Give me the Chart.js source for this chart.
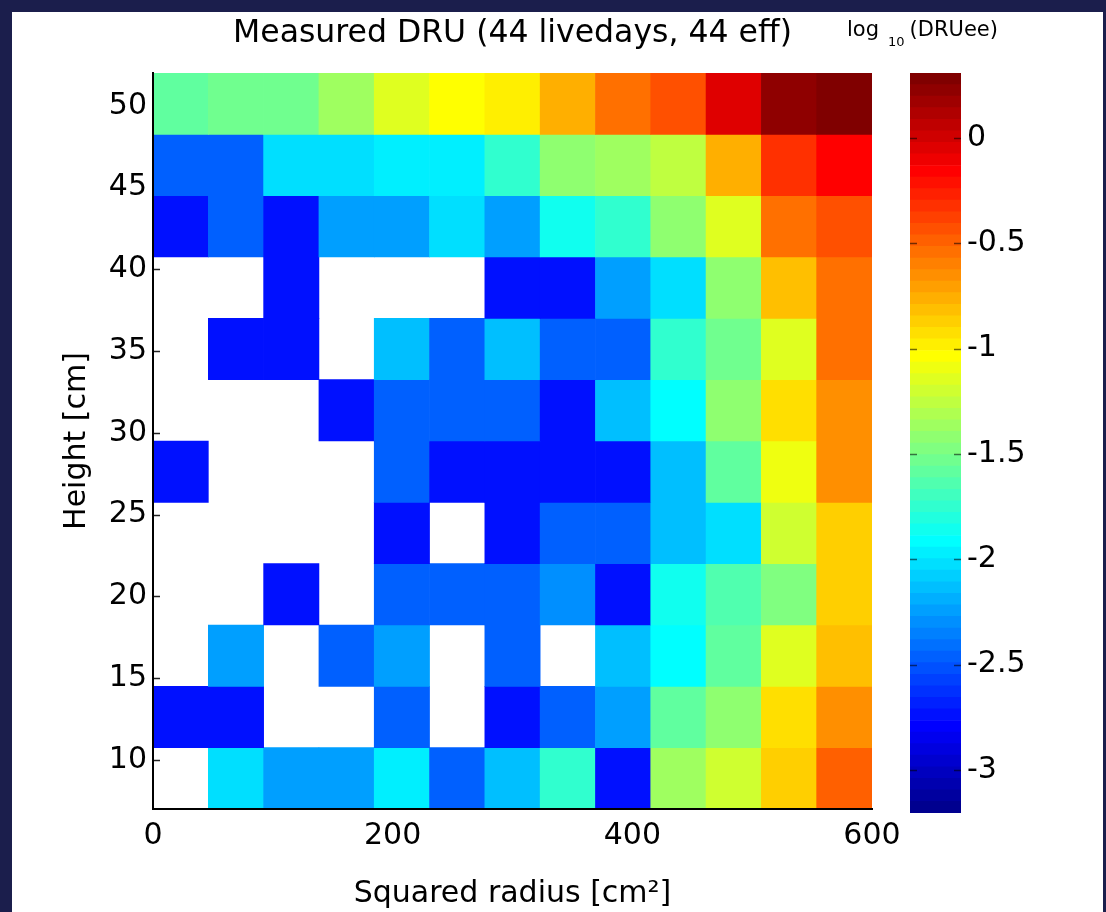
<!DOCTYPE html>
<html lang="en">
<head>
<meta charset="utf-8">
<title>Measured DRU</title>
<script src="https://cdn.jsdelivr.net/npm/chart.js"></script>
<style>
  html, body { margin: 0; padding: 0; }
  body {
    width: 1106px; height: 912px; position: relative; overflow: hidden;
    background: #1b1e4c; font-family: 'DejaVu Sans', sans-serif;
  }
  #hoja { position: absolute; left: 12px; top: 12px; width: 1091px; height: 900px; background: #fff; }
  #grafico { position: absolute; left: 12px; top: 12px; }
  #barra { position: absolute; left: 880px; top: 12px; }
  #etiqueta-barra {
    position: absolute; left: 847px; top: 16px; color: #000;
    font-size: 21px; line-height: 26px; white-space: nowrap;
  }
  #etiqueta-barra sub { font-size: 13px; margin: 0 5px 0 9px; vertical-align: -10px; line-height: 0; }
</style>
</head>
<body>
<div id="hoja"></div>
<canvas id="grafico" width="888" height="900"></canvas>
<canvas id="barra" width="220" height="900"></canvas>
<div id="etiqueta-barra">log<sub>10</sub>(DRUee)</div>

<script>
// Bordes de los bins: radio al cuadrado (cm^2) y altura (cm)
const radioCuadradoBordes = [0, 46.2, 92.3, 138.5, 184.6, 230.8, 276.9, 323.1, 369.2, 415.4, 461.5, 507.7, 553.8, 600];
const alturaBordes = [7, 10.75, 14.5, 18.25, 22, 25.75, 29.5, 33.25, 37, 40.75, 44.5, 48.25, 52];

// log10(DRUee) por fila, de abajo hacia arriba (null = bin vacío)
const logDRU = [
  [null, -2.02, -2.21, -2.21, -1.94, -2.43, -2.10, -1.72, -2.71, -1.33, -1.17, -0.85, -0.46],
  [-2.71, -2.71, null, null, -2.43, null, -2.71, -2.43, -2.21, -1.58, -1.39, -0.90, -0.62],
  [null, -2.21, null, -2.43, -2.21, null, -2.43, null, -2.10, -1.89, -1.58, -1.11, -0.79],
  [null, null, -2.71, null, -2.43, -2.43, -2.43, -2.27, -2.71, -1.83, -1.64, -1.45, -0.85],
  [null, null, null, null, -2.71, null, -2.71, -2.43, -2.43, -2.10, -1.99, -1.17, -0.85],
  [-2.71, null, null, null, -2.43, -2.71, -2.71, -2.71, -2.71, -2.10, -1.58, -1.06, -0.62],
  [null, null, null, -2.71, -2.43, -2.43, -2.43, -2.71, -2.10, -1.89, -1.42, -0.90, -0.62],
  [null, -2.71, -2.71, null, -2.10, -2.43, -2.10, -2.43, -2.43, -1.74, -1.48, -1.11, -0.54],
  [null, null, -2.71, null, null, null, -2.71, -2.71, -2.21, -1.99, -1.42, -0.79, -0.52],
  [-2.71, -2.43, -2.71, -2.21, -2.21, -1.99, -2.21, -1.83, -1.74, -1.42, -1.11, -0.54, -0.40],
  [-2.43, -2.43, -1.99, -1.99, -1.94, -1.93, -1.72, -1.42, -1.36, -1.23, -0.74, -0.29, -0.13],
  [-1.54, -1.48, -1.48, -1.33, -1.11, -1.01, -0.93, -0.74, -0.52, -0.40, -0.02, 0.27, 0.31]
];

// Marcas de los ejes y rango de color
const ticksRadio = [0, 200, 400, 600];
const ticksAltura = [10, 15, 20, 25, 30, 35, 40, 45, 50];
const ticksBarra = [-3, -2.5, -2, -1.5, -1, -0.5, 0];
const limitesColor = [-3.204, 0.308];

const NIVELES = 64;

// Paleta 'jet' de 64 niveles
function colorJet(nivel) {
  const t = nivel / NIVELES;
  const c = x => Math.round(255 * Math.min(1, Math.max(0, x)));
  return `rgb(${c(1.5 - Math.abs(4 * t - 3))}, ${c(1.5 - Math.abs(4 * t - 2))}, ${c(1.5 - Math.abs(4 * t - 1))})`;
}

function nivelDeValor(v) {
  const f = (v - limitesColor[0]) / (limitesColor[1] - limitesColor[0]);
  return Math.min(NIVELES, Math.max(1, Math.round(f * NIVELES)));
}

// Cada celda es una barra flotante: x = centro del bin, y = [inferior, superior]
const celdas = [];
logDRU.forEach((fila, i) => {
  fila.forEach((valor, j) => {
    if (valor === null) return;
    celdas.push({
      x: (radioCuadradoBordes[j] + radioCuadradoBordes[j + 1]) / 2,
      y: [alturaBordes[i], alturaBordes[i + 1]],
      v: valor
    });
  });
});

Chart.defaults.font.family = "'DejaVu Sans', sans-serif";
Chart.defaults.font.size = 30;
Chart.defaults.color = '#000';

// Pequeñas marcas hacia dentro en el eje de alturas (quedan debajo de las celdas)
const marcasAltura = {
  id: 'marcasAltura',
  beforeDatasetsDraw(chart) {
    const { ctx, chartArea, scales: { y } } = chart;
    ctx.save();
    ctx.strokeStyle = '#222';
    ctx.lineWidth = 1.5;
    y.ticks.forEach(t => {
      const py = Math.round(y.getPixelForValue(t.value)) + 0.5;
      ctx.beginPath();
      ctx.moveTo(chartArea.left, py);
      ctx.lineTo(chartArea.left + 7, py);
      ctx.stroke();
    });
    ctx.restore();
  }
};

new Chart(document.getElementById('grafico'), {
  type: 'bar',
  data: {
    datasets: [{
      data: celdas,
      backgroundColor: ctx => colorJet(nivelDeValor(ctx.raw.v)),
      borderWidth: 0,
      barPercentage: 1,
      categoryPercentage: 1
    }]
  },
  options: {
    responsive: false,
    animation: false,
    events: [],
    layout: { padding: { left: 0, right: 28, top: 0, bottom: 0 } },
    plugins: {
      legend: { display: false },
      tooltip: { enabled: false },
      title: {
        display: true,
        text: 'Measured DRU (44 livedays, 44 eff)',
        fullSize: false,
        font: { size: 31.5, weight: 'normal' },
        padding: { top: 3, bottom: 20.2 }
      }
    },
    scales: {
      x: {
        type: 'linear',
        offset: false,
        min: 0,
        max: 600,
        afterBuildTicks: s => { s.ticks = ticksRadio.map(v => ({ value: v })); },
        afterFit: s => {
          s.height = 103;
          // sin reservar hueco extra para las etiquetas de los extremos
          s.paddingLeft = 0;
          s.paddingRight = 0;
        },
        grid: { display: false, drawTicks: false },
        border: { display: true, color: '#000', width: 2, z: 1 },
        ticks: { padding: 9, maxRotation: 0, autoSkip: false },
        title: {
          display: true,
          text: 'Squared radius [cm²]',
          padding: { top: 0, bottom: 0 }
        }
      },
      y: {
        type: 'linear',
        min: alturaBordes[0],
        max: alturaBordes[alturaBordes.length - 1],
        afterBuildTicks: s => { s.ticks = ticksAltura.map(v => ({ value: v })); },
        afterFit: s => { s.width = 141; },
        grid: { display: false, drawTicks: false },
        border: { display: true, color: '#000', width: 2, z: 1 },
        ticks: { padding: 6, autoSkip: false },
        title: {
          display: true,
          text: 'Height [cm]',
          padding: { top: 47, bottom: 0 }
        }
      }
    }
  },
  plugins: [marcasAltura]
});

// Barra de color: un segmento flotante por nivel de la paleta
const rango = limitesColor[1] - limitesColor[0];
const segmentos = [];
for (let n = 1; n <= NIVELES; n++) {
  segmentos.push({
    data: [[limitesColor[0] + (n - 1) / NIVELES * rango, limitesColor[0] + n / NIVELES * rango]],
    backgroundColor: colorJet(n),
    borderWidth: 0,
    grouped: false,
    barPercentage: 1,
    categoryPercentage: 1
  });
}

const marcasBarra = {
  id: 'marcasBarra',
  afterDatasetsDraw(chart) {
    const { ctx, chartArea, scales: { y } } = chart;
    ctx.save();
    ctx.strokeStyle = 'rgba(0, 0, 0, 0.55)';
    ctx.lineWidth = 1.5;
    y.ticks.forEach(t => {
      const py = Math.round(y.getPixelForValue(t.value)) + 0.5;
      ctx.beginPath();
      ctx.moveTo(chartArea.left, py);
      ctx.lineTo(chartArea.left + 7, py);
      ctx.moveTo(chartArea.right - 7, py);
      ctx.lineTo(chartArea.right, py);
      ctx.stroke();
    });
    ctx.restore();
  }
};

new Chart(document.getElementById('barra'), {
  type: 'bar',
  data: { labels: [''], datasets: segmentos },
  options: {
    responsive: false,
    animation: false,
    events: [],
    layout: { padding: { left: 30, right: 0, top: 61, bottom: 99 } },
    plugins: { legend: { display: false }, tooltip: { enabled: false } },
    scales: {
      x: { display: false },
      y: {
        position: 'right',
        min: limitesColor[0],
        max: limitesColor[1],
        afterBuildTicks: s => { s.ticks = ticksBarra.map(v => ({ value: v })); },
        afterFit: s => { s.width = 139; },
        grid: { display: false, drawTicks: false },
        border: { display: false },
        ticks: { padding: 6, autoSkip: false, callback: v => String(v) }
      }
    }
  },
  plugins: [marcasBarra]
});
</script>
</body>
</html>
